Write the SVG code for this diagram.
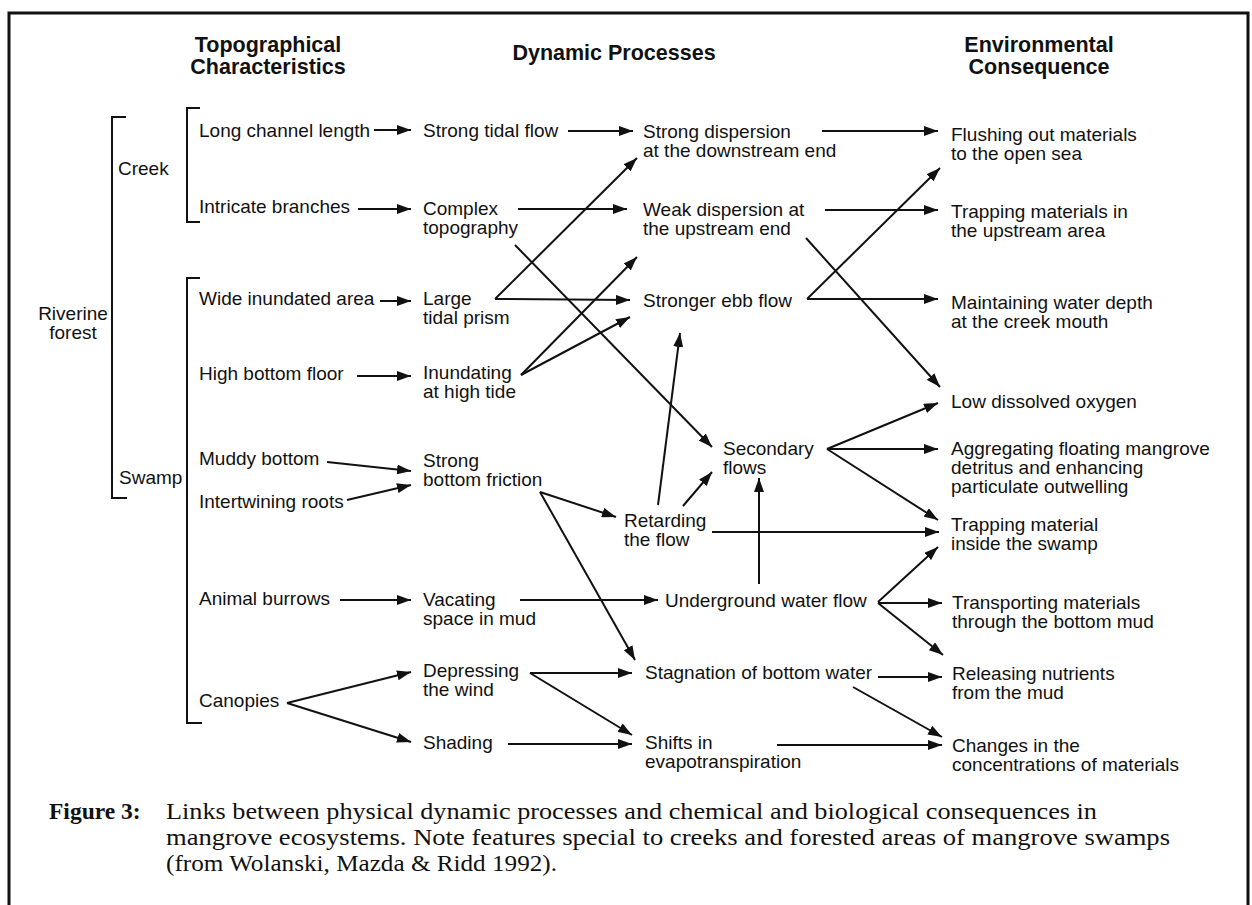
<svg xmlns="http://www.w3.org/2000/svg" width="1252" height="905" viewBox="0 0 1252 905">
<style>
text{font-family:"Liberation Sans",Arial,Helvetica,sans-serif;font-size:19px;fill:#111}
.h{font-weight:bold;font-size:21.5px;text-anchor:middle}
.cap{font-family:"Liberation Serif","Times New Roman",serif;font-size:23.5px}
.c{stroke:#111;stroke-width:2;fill:none;marker-end:url(#ah)}
.br{stroke:#111;stroke-width:2;fill:none}
.frame{stroke:#111;stroke-width:3;fill:none}
</style>
<defs>
<marker id="ah" viewBox="0 0 14 10" refX="14" refY="5" markerWidth="14" markerHeight="10" markerUnits="userSpaceOnUse" orient="auto"><path d="M0,0 L14,5 L0,10 z" fill="#111"/></marker>
</defs>
<rect width="1252" height="905" fill="#fff"/>
<path class="frame" d="M9,905 V13 H1248 V905"/>

<g id="headers">
<text class="h" x="268" y="52">Topographical</text>
<text class="h" x="268" y="74">Characteristics</text>
<text class="h" x="614" y="60">Dynamic Processes</text>
<text class="h" x="1039" y="52">Environmental</text>
<text class="h" x="1039" y="74">Consequence</text>
</g>

<g id="brackets">
<path class="br" d="M126,117 H112 V498 H127"/>
<path class="br" d="M200,108 H187 V222 H200"/>
<path class="br" d="M200,278 H187 V723 H202"/>
</g>
<g id="riverine"><text x="73" y="320" text-anchor="middle">Riverine</text><text x="73" y="339" text-anchor="middle">forest</text></g>
<g id="creek"><text x="118" y="175">Creek</text></g>
<g id="swamp"><text x="119" y="484">Swamp</text></g>

<g id="t1"><text x="199" y="137">Long channel length</text></g>
<g id="t2"><text x="199" y="213">Intricate branches</text></g>
<g id="t3"><text x="199" y="305">Wide inundated area</text></g>
<g id="t4"><text x="199" y="380">High bottom floor</text></g>
<g id="t5"><text x="199" y="465">Muddy bottom</text></g>
<g id="t6"><text x="199" y="508">Intertwining roots</text></g>
<g id="t7"><text x="199" y="605">Animal burrows</text></g>
<g id="t8"><text x="199" y="707">Canopies</text></g>

<g id="d1"><text x="423" y="137">Strong tidal flow</text></g>
<g id="d2"><text x="423" y="215">Complex</text><text x="423" y="234">topography</text></g>
<g id="d3"><text x="423" y="305">Large</text><text x="423" y="324">tidal prism</text></g>
<g id="d4"><text x="423" y="379">Inundating</text><text x="423" y="398">at high tide</text></g>
<g id="d5"><text x="423" y="467">Strong</text><text x="423" y="486">bottom friction</text></g>
<g id="d6"><text x="423" y="606">Vacating</text><text x="423" y="625">space in mud</text></g>
<g id="d7"><text x="423" y="677">Depressing</text><text x="423" y="696">the wind</text></g>
<g id="d8"><text x="423" y="749">Shading</text></g>

<g id="p1"><text x="643" y="138">Strong dispersion</text><text x="643" y="157">at the downstream end</text></g>
<g id="p2"><text x="643" y="216">Weak dispersion at</text><text x="643" y="235">the upstream end</text></g>
<g id="p3"><text x="643" y="307">Stronger ebb flow</text></g>
<g id="p4"><text x="723" y="455">Secondary</text><text x="723" y="474">flows</text></g>
<g id="p5"><text x="624" y="527">Retarding</text><text x="624" y="546">the flow</text></g>
<g id="p6"><text x="665" y="607">Underground water flow</text></g>
<g id="p7"><text x="645" y="679">Stagnation of bottom water</text></g>
<g id="p8"><text x="645" y="749">Shifts in</text><text x="645" y="768">evapotranspiration</text></g>

<g id="e1"><text x="951" y="141">Flushing out materials</text><text x="951" y="160">to the open sea</text></g>
<g id="e2"><text x="951" y="218">Trapping materials in</text><text x="951" y="237">the upstream area</text></g>
<g id="e3"><text x="951" y="309">Maintaining water depth</text><text x="951" y="328">at the creek mouth</text></g>
<g id="e4"><text x="951" y="408">Low dissolved oxygen</text></g>
<g id="e5"><text x="951" y="455">Aggregating floating mangrove</text><text x="951" y="474">detritus and enhancing</text><text x="951" y="493">particulate outwelling</text></g>
<g id="e6"><text x="951" y="531">Trapping material</text><text x="951" y="550">inside the swamp</text></g>
<g id="e7"><text x="952" y="609">Transporting materials</text><text x="952" y="628">through the bottom mud</text></g>
<g id="e8"><text x="952" y="680">Releasing nutrients</text><text x="952" y="699">from the mud</text></g>
<g id="e9"><text x="952" y="752">Changes in the</text><text x="952" y="771">concentrations of materials</text></g>

<g id="connectors">
<line class="c" x1="374" y1="130" x2="411" y2="130"/>
<line class="c" x1="358" y1="209" x2="411" y2="209"/>
<line class="c" x1="380" y1="301" x2="411" y2="301"/>
<line class="c" x1="357" y1="376" x2="411" y2="376"/>
<line class="c" x1="327" y1="462" x2="411" y2="471"/>
<line class="c" x1="347" y1="500" x2="411" y2="485"/>
<line class="c" x1="340" y1="600" x2="411" y2="600"/>
<line class="c" x1="287" y1="703" x2="411" y2="672"/>
<line class="c" x1="287" y1="703" x2="411" y2="742"/>

<line class="c" x1="568" y1="131" x2="633" y2="131"/>
<line class="c" x1="518" y1="209" x2="627" y2="209"/>
<line class="c" x1="495" y1="299" x2="637" y2="158"/>
<line class="c" x1="495" y1="299" x2="630" y2="300"/>
<line class="c" x1="515" y1="245" x2="712" y2="447"/>
<line class="c" x1="521" y1="375" x2="637" y2="257"/>
<line class="c" x1="521" y1="375" x2="630" y2="317"/>
<line class="c" x1="540" y1="492" x2="616" y2="517"/>
<line class="c" x1="540" y1="492" x2="635" y2="660"/>
<line class="c" x1="658" y1="505" x2="680" y2="333"/>
<line class="c" x1="683" y1="506" x2="712" y2="472"/>
<line class="c" x1="712" y1="532" x2="939" y2="532"/>
<line class="c" x1="759" y1="584" x2="759" y2="478"/>
<line class="c" x1="520" y1="600" x2="658" y2="600"/>
<line class="c" x1="530" y1="673" x2="632" y2="673"/>
<line class="c" x1="530" y1="673" x2="632" y2="735"/>
<line class="c" x1="508" y1="744" x2="632" y2="744"/>

<line class="c" x1="822" y1="131" x2="938" y2="131"/>
<line class="c" x1="825" y1="210" x2="938" y2="210"/>
<line class="c" x1="806" y1="238" x2="940" y2="387"/>
<line class="c" x1="807" y1="299" x2="940" y2="168"/>
<line class="c" x1="807" y1="299" x2="938" y2="299"/>
<line class="c" x1="827" y1="449" x2="938" y2="403"/>
<line class="c" x1="827" y1="449" x2="938" y2="449"/>
<line class="c" x1="827" y1="449" x2="938" y2="520"/>
<line class="c" x1="878" y1="602" x2="938" y2="547"/>
<line class="c" x1="878" y1="603" x2="942" y2="603"/>
<line class="c" x1="878" y1="603" x2="943" y2="655"/>
<line class="c" x1="878" y1="677" x2="942" y2="677"/>
<line class="c" x1="853" y1="687" x2="942" y2="737"/>
<line class="c" x1="777" y1="745" x2="942" y2="745"/>
</g>

<g id="caption">
<text class="cap" x="49" y="819" font-weight="bold">Figure 3:</text>
<text class="cap" x="166" y="819" textLength="931" lengthAdjust="spacingAndGlyphs">Links between physical dynamic processes and chemical and biological consequences in</text>
<text class="cap" x="166" y="845" textLength="1004" lengthAdjust="spacingAndGlyphs">mangrove ecosystems.  Note features special to creeks and forested areas of mangrove swamps</text>
<text class="cap" x="166" y="871" textLength="391" lengthAdjust="spacingAndGlyphs">(from Wolanski, Mazda &amp; Ridd 1992).</text>
</g>
</svg>
